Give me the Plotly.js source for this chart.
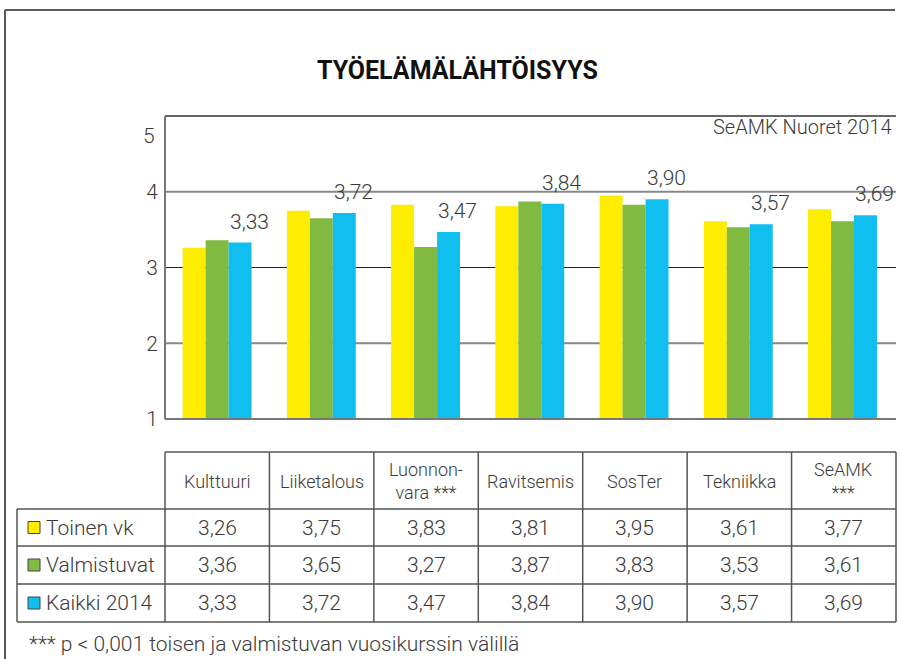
<!DOCTYPE html>
<html><head><meta charset="utf-8">
<script src="https://cdn.plot.ly/plotly-3.0.1.min.js"></script>
<style>body{margin:0;background:#fff}#chart{width:900px;height:659px}</style>
</head><body><div id="chart"></div>
<script>
// ---- data ----
const categories = ['Kulttuuri','Liiketalous','Luonnonvara','Ravitsemis','SosTer','Tekniikka','SeAMK'];
const headerLabels = ['Kulttuuri','Liiketalous','Luonnon-<br>vara ***','Ravitsemis','SosTer','Tekniikka','SeAMK<br>***'];
const seriesNames = ['Toinen vk','Valmistuvat','Kaikki 2014'];
const toinenVk   = [3.26,3.75,3.83,3.81,3.95,3.61,3.77];
const valmistuvat = [3.36,3.65,3.27,3.87,3.83,3.53,3.61];
const kaikki2014 = [3.33,3.72,3.47,3.84,3.90,3.57,3.69];
const yTickVals = [1,2,3,4];
const yTickText = ['1','2','3','4'];
const topTickLabel = '5';
const titleText = 'TYÖELÄMÄLÄHTÖISYYS';
const sourceText = 'SeAMK Nuoret 2014';
const footnoteText = '*** p &lt; 0,001 toisen ja valmistuvan vuosikurssin välillä';

// ---- style ----
const colors = ['#FFED00','#80BA41','#10BEF0'];
const FONT = 'Roboto, "Open Sans", sans-serif';
const TXT = '#3a3a3a';
const W8 = 300;
const L=165, R=896, T=116, B=419;
const px2x = p => (p-L)/(R-L);
const py2y = p => (B-p)/(B-T);
const fmt = v => v.toFixed(2).replace('.', ',');
const f = (size)=>({family:FONT,size:size,color:TXT,weight:W8});

const series = [toinenVk, valmistuvat, kaikki2014];
const traces = series.map((vals,i)=>({
  type:'bar', x:categories, y:vals, name:seriesNames[i],
  marker:{color:colors[i], line:{width:0}}, hoverinfo:'skip', showlegend:false
}));

const shapes = [];
const line = (x0,y0,x1,y1,color,width)=>shapes.push({type:'line',xref:'paper',yref:'paper',
  x0:px2x(x0),y0:py2y(y0),x1:px2x(x1),y1:py2y(y1),line:{color:color,width:width},layer:'above'});
// outer frame
line(5,10,895,10,'#5a5a5a',2);
line(5,10,5,659,'#5a5a5a',2);
// plot frame
line(165,116,896,116,'#333',1.5);
line(165,116,165,419,'#777',2);
line(165,419,896,419,'#777',2);
// gridlines
[[2,'#888',2],[3,'#222',1],[4,'#888',2]].forEach(g=>shapes.push({type:'line',xref:'paper',yref:'y',
  x0:0,x1:1,y0:g[0],y1:g[0],line:{color:g[1],width:g[2]},layer:'below'}));
// table
const rowsY = [452,509,546,584,622];
const colW = (R-L)/categories.length;
line(165,452,896,452,'#555',1.5);
for (let r=1;r<rowsY.length;r++) line(17,rowsY[r],896,rowsY[r],'#555',1.5);
for (let c=0;c<=categories.length;c++) line(L+c*colW,452,L+c*colW,622,'#555',1.5);
line(17,509,17,622,'#555',1.5);

const annotations = [];
const ann = (o)=>annotations.push(Object.assign({showarrow:false,xref:'paper',yref:'paper',font:f(18)},o));
ann({text:'<b>'+titleText+'</b>',x:px2x(457),y:py2y(70),xanchor:'center',yanchor:'middle',
  font:{family:FONT,size:25,color:'#111'}});
ann({text:sourceText,x:px2x(894),y:py2y(127),xanchor:'right',yanchor:'middle',font:f(20)});
ann({text:topTickLabel,x:0,xshift:-8,yref:'y',y:5,yshift:-20,xanchor:'right',yanchor:'middle',font:f(21)});
// data labels for Kaikki 2014
kaikki2014.forEach((v,i)=>ann({text:fmt(v),xref:'x',x:categories[i],xshift:32,yref:'y',y:v,yshift:21,
  xanchor:'center',yanchor:'middle',font:f(21)}));
// header
headerLabels.forEach((h,i)=>ann({text:h,x:px2x(L+(i+0.5)*colW),y:py2y(481),xanchor:'center',yanchor:'middle',
  font:f(18)}));
// rows
series.forEach((vals,r)=>{
  const cy = (rowsY[r+1]+rowsY[r+2])/2;
  shapes.push({type:'rect',xref:'paper',yref:'paper',x0:px2x(28),x1:px2x(40),y0:py2y(cy-6),y1:py2y(cy+6),
    fillcolor:colors[r],line:{color:'#444',width:1},layer:'above'});
  ann({text:seriesNames[r],x:px2x(44),y:py2y(cy),xanchor:'left',yanchor:'middle',font:f(21)});
  vals.forEach((v,i)=>ann({text:fmt(v),x:px2x(L+(i+0.5)*colW),y:py2y(cy),xanchor:'center',yanchor:'middle',
    font:f(21)}));
});
ann({text:footnoteText,x:px2x(27),y:py2y(644),xanchor:'left',yanchor:'middle',font:f(21)});

const layout = {
  width:900,height:659,margin:{l:L,r:900-R,t:T,b:659-B,pad:0},
  paper_bgcolor:'#fff',plot_bgcolor:'#fff',
  barmode:'group',bargap:0.339,bargroupgap:0,
  xaxis:{type:'category',showticklabels:false,showgrid:false,zeroline:false,showline:false,ticks:'',fixedrange:true},
  yaxis:{range:[1,5],tickvals:yTickVals,ticktext:yTickText,showgrid:false,zeroline:false,showline:false,ticks:'',
    tickfont:f(21),ticklabelstandoff:6,fixedrange:true},
  shapes:shapes,annotations:annotations,showlegend:false
};
Plotly.newPlot('chart',traces,layout,{displayModeBar:false,staticPlot:true});
</script></body></html>
